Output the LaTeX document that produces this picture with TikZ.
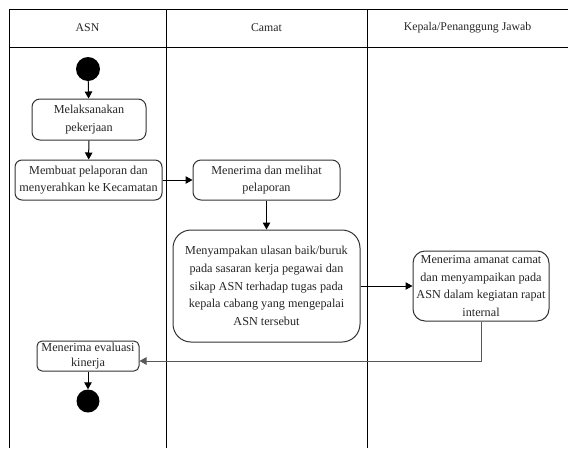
\documentclass[tikz,border=0pt]{standalone}
\usepackage{fontspec}
\setmainfont{Liberation Serif}
\usetikzlibrary{arrows.meta,calc}
\begin{document}
\begin{tikzpicture}[x=1pt,y=-1pt,
  lane/.style={draw=black, line width=1pt},
  act/.style={draw=black!80, line width=1pt, fill=white, align=center, inner sep=0pt,
    text=black!85, font=\fontsize{12.2}{17.8}\selectfont},
  hdr/.style={text=black!85, font=\fontsize{11.8}{14}\selectfont},
  dot/.style={circle, fill=black, inner sep=0pt},
  flow/.style={draw=black, line width=1pt, -{Triangle[length=7pt,width=7.5pt]}},
  flowgray/.style={draw=black!65, line width=1pt, -{Triangle[length=7pt,width=7.5pt]}}
]
\useasboundingbox (0,0) rectangle (568,448);
% swimlanes
\draw[lane] (9,448) -- (9,9) -- (568,9);
\draw[lane] (9,47) -- (568,47);
\draw[lane] (166,9) -- (166,448);
\draw[lane] (367,9) -- (367,448);
\node[hdr] (hA) at (87.5,28) {ASN};
\node[hdr] (hB) at (266.5,28) {Camat};
\node[hdr] (hC) at (467.5,28) {Kepala/Penanggung Jawab};
% nodes
\node[dot, minimum size=24pt] (start) at (88,69) {};
\node[act, rounded corners=8pt, minimum width=114pt, minimum height=41pt] (n1) at (89,119.5) {Melaksanakan\\pekerjaan};
\node[act, rounded corners=7pt, minimum width=147pt, minimum height=40pt] (n2) at (88.5,180) {Membuat pelaporan dan\\menyerahkan ke Kecamatan};
\node[act, rounded corners=8pt, minimum width=147pt, minimum height=40pt] (n3) at (266.5,180) {Menerima dan melihat\\pelaporan};
\node[act, rounded corners=18pt, minimum width=187pt, minimum height=112pt] (n4) at (266.5,286) {Menyampakan ulasan baik/buruk\\pada sasaran kerja pegawai dan\\sikap ASN terhadap tugas pada\\kepala cabang yang mengepalai\\ASN tersebut};
\node[act, rounded corners=12pt, minimum width=136pt, minimum height=70pt] (n5) at (481,286) {Menerima amanat camat\\dan menyampaikan pada\\ASN dalam kegiatan rapat\\internal};
\node[act, rounded corners=5pt, minimum width=102pt, minimum height=30pt, font=\fontsize{12.2}{15}\selectfont] (n6) at (88,356) {Menerima evaluasi\\kinerja};
\node[dot, minimum size=23pt] (end) at (88,401) {};
% connectors
\draw[flow] (start) -- (n1);
\draw[flow] (n1) -- (n2);
\draw[flow] (n2) -- (n3);
\draw[flow] (n3) -- (n4);
\draw[flow] (n4) -- (n5);
\coordinate (turn) at (481,361);
\draw[flowgray] (n5.south) -- (turn) -- (turn -| n6.east);
\draw[flow] (n6) -- (end);
\end{tikzpicture}
\end{document}
